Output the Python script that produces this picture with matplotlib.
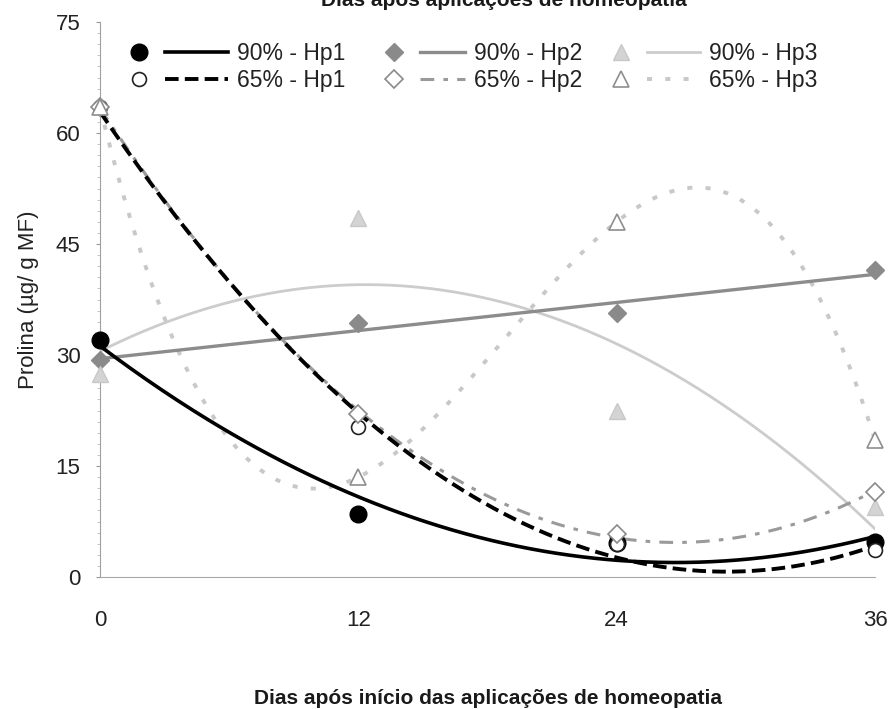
import numpy as np
import matplotlib
matplotlib.use("Agg")
import matplotlib.pyplot as plt
from matplotlib.lines import Line2D
from matplotlib.legend_handler import HandlerBase
from matplotlib.ticker import MultipleLocator

plt.rcParams['font.family'] = ['Liberation Sans', 'DejaVu Sans']

# days after start of applications
days = [0, 12, 24, 36]

# proline (ug/g MF)
hp1_90 = [32.0, 8.5, 4.6, 4.7]
hp1_65 = [63.5, 20.3, 4.5, 3.6]
hp2_90 = [29.3, 34.3, 35.7, 41.5]
hp2_65 = [63.5, 22.0, 5.8, 11.5]
hp3_90 = [27.5, 48.5, 22.5, 9.5]
hp3_65 = [63.5, 13.5, 48.0, 18.5]

labels = ["90% - Hp1", "65% - Hp1", "90% - Hp2", "65% - Hp2", "90% - Hp3", "65% - Hp3"]
# polynomial order of each excel-like trend line
orders = [2, 2, 1, 2, 2, 3]


class MarkerLine(HandlerBase):
    # excel style legend key: marker first, then a piece of line
    def create_artists(self, legend, orig_handle, xdescent, ydescent,
                       width, height, fontsize, trans):
        pts, crv = orig_handle
        y = height / 2.0 - ydescent
        m = Line2D([0.5 * fontsize - xdescent], [y])
        m.update_from(pts)
        l = Line2D([1.6 * fontsize - xdescent, width - xdescent], [y, y])
        l.update_from(crv)
        l.set_marker('None')
        m.set_transform(trans)
        l.set_transform(trans)
        return [m, l]


fig = plt.figure(figsize=(8.9, 7.09), dpi=100)
ax = fig.add_axes([100/890, 1-577/709, 775/890, 555/709])

series = [hp1_90, hp1_65, hp2_90, hp2_65, hp3_90, hp3_65]
mstyle = [
    dict(marker='o', ms=12, mfc='black', mec='black'),
    dict(marker='o', ms=10, mfc='white', mec='#222222', mew=1.2),
    dict(marker='D', ms=9, mfc='#8a8a8a', mec='#8a8a8a'),
    dict(marker='D', ms=9, mfc='white', mec='#8a8a8a', mew=1.2),
    dict(marker='^', ms=11, mfc='#d4d4d4', mec='#c8c8c8'),
    dict(marker='^', ms=11, mfc='white', mec='#8e8e8e', mew=1.2),
]
lstyle = [
    dict(color='black', lw=2.6, ls='-'),
    dict(color='black', lw=2.8, dashes=[3.5, 1.6]),
    dict(color='#8c8c8c', lw=2.4, ls='-'),
    dict(color='#9a9a9a', lw=2.2, dashes=[4.5, 3, 1.5, 3]),
    dict(color='#cccccc', lw=2.0, ls='-'),
    dict(color='#c8c8c8', lw=2.8, dashes=[1.3, 3.4]),
]
zs = [10, 9, 7, 8, 5, 6]
mz = [20, 23, 21, 24, 22, 25]

xd = np.linspace(0, 36, 300)
handles = []
for vals, o, ms, ls, z, zm in zip(series, orders, mstyle, lstyle, zs, mz):
    coef = np.polyfit(days, vals, o)
    crv, = ax.plot(xd, np.polyval(coef, xd), zorder=z, **ls)
    pts, = ax.plot(days, vals, ls='none', zorder=zm, clip_on=False, **ms)
    handles.append((pts, crv))

ax.set_xlim(0, 36)
ax.set_ylim(0, 75)
ax.set_xticks(days)
ax.set_yticks([0, 15, 30, 45, 60, 75])
ax.yaxis.set_minor_locator(MultipleLocator(1.5))
ax.tick_params(axis='both', labelsize=16, colors='#333333', labelcolor='#222222')
ax.tick_params(axis='x', length=0, pad=24)
ax.tick_params(axis='y', which='major', length=3, pad=11, color='#999999')
ax.tick_params(axis='y', which='minor', length=2, color='#bbbbbb')
for s in ['top', 'right']:
    ax.spines[s].set_visible(False)
ax.spines['left'].set_color('#a0a0a0')
ax.spines['bottom'].set_color('#a8a8a8')
ax.spines['left'].set_linewidth(0.8)
ax.spines['bottom'].set_linewidth(0.8)

ax.set_ylabel("Prolina (µg/ g MF)", fontsize=16, color='#222222', labelpad=12)

fig.text(488/890, 1-698/709, "Dias após início das aplicações de homeopatia",
         ha='center', va='center', fontsize=15, fontweight='bold', color='#1a1a1a')
fig.text(504/890, 1-6/709, "Dias após aplicações de homeopatia",
         ha='center', va='baseline', fontsize=15, fontweight='bold', color='#1a1a1a')

# three legend columns, like the excel key
cols = [(128, 4.37), (383, 3.58), (610, 3.93)]
for i, (x0, hl) in enumerate(cols):
    fig.legend(handles[2*i:2*i+2], labels[2*i:2*i+2], loc='center left',
               bbox_to_anchor=(x0/890, 1-67/709), frameon=False,
               handler_map={tuple: MarkerLine()}, fontsize=16.5,
               handlelength=hl, handletextpad=0.4, labelspacing=0.2,
               borderpad=0, borderaxespad=0, labelcolor='#222222')

fig.savefig("out.png", dpi=100)
